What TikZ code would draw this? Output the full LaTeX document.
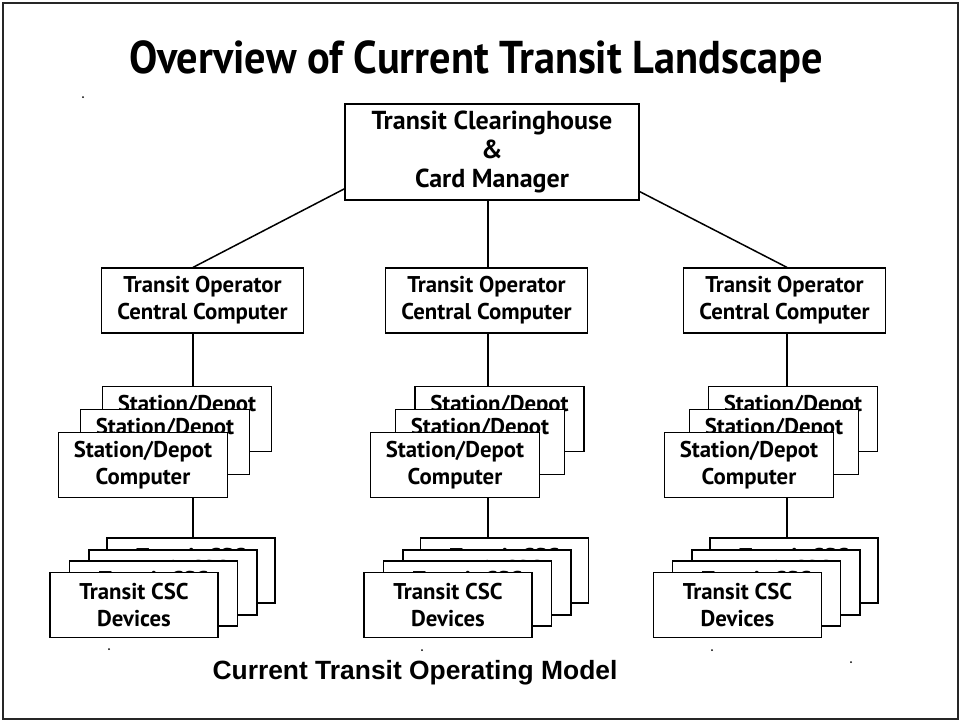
\documentclass[tikz,border=0pt]{standalone}
\usepackage{fontspec}
\setmainfont{PT Sans}
\newfontfamily\capfont{Liberation Sans}
\newfontfamily\titlefont[FakeStretch=0.92]{PT Sans}
\usepackage{tikz}
\tikzstyle{tbox}=[draw, thin, fill=white, line width=1.2pt, align=center, inner sep=0pt,
  font=\fontsize{22.8}{27}\selectfont\bfseries]
\tikzstyle{hubbox}=[tbox, minimum width=294pt, minimum height=96pt,
  font=\fontsize{26}{29}\selectfont\bfseries]
\tikzstyle{opbox}=[tbox, minimum width=202pt, minimum height=65pt]
\tikzstyle{stbox}=[tbox, minimum width=169pt, minimum height=65pt]
\tikzstyle{dvbox}=[tbox, minimum width=168pt, minimum height=65pt]
\tikzstyle{link}=[line width=1.5pt]
\tikzstyle{speck}=[circle, fill=black, inner sep=0pt, minimum size=2pt]

\begin{document}
\begin{tikzpicture}[x=1pt, y=-1pt]

\useasboundingbox (0,0) rectangle (961,721);
\draw[line width=2pt, black!85] (3,3) rectangle (958,719);

\node (title) at (476,62) {\titlefont\fontsize{46}{50}\selectfont\bfseries Overview of Current Transit Landscape};

\node[hubbox] (hub) at (492,152) {Transit Clearinghouse\\\&\\Card Manager};

\node[opbox] (opL) at (202.5,300.5) {Transit Operator\\Central Computer};
\node[opbox] (opM) at (486.5,300.5) {Transit Operator\\Central Computer};
\node[opbox] (opR) at (784.5,300.5) {Transit Operator\\Central Computer};

\coordinate (busL) at (193,0);
\coordinate (busM) at (488,0);
\coordinate (busR) at (787,0);

\node[stbox] (stL3) at (187,419) {Station/Depot\\Computer};
\node[stbox] (stL2) at (165,442) {Station/Depot\\Computer};
\node[stbox] (stL1) at (143,465) {Station/Depot\\Computer};

\node[stbox] (stM3) at (499.5,419) {Station/Depot\\Computer};
\node[stbox] (stM2) at (480,442) {Station/Depot\\Computer};
\node[stbox] (stM1) at (455,465) {Station/Depot\\Computer};

\node[stbox] (stR3) at (793,419) {Station/Depot\\Computer};
\node[stbox] (stR2) at (774,442) {Station/Depot\\Computer};
\node[stbox] (stR1) at (749,465) {Station/Depot\\Computer};

\node[dvbox] (dvL4) at (191,570.5) {Transit CSC\\Devices};
\node[dvbox] (dvL3) at (173,582.5) {Transit CSC\\Devices};
\node[dvbox] (dvL2) at (153.5,593.5) {Transit CSC\\Devices};
\node[dvbox] (dvL1) at (134,605) {Transit CSC\\Devices};

\node[dvbox] (dvM4) at (504.5,570.5) {Transit CSC\\Devices};
\node[dvbox] (dvM3) at (487,582.5) {Transit CSC\\Devices};
\node[dvbox] (dvM2) at (467.5,593.5) {Transit CSC\\Devices};
\node[dvbox] (dvM1) at (448,605) {Transit CSC\\Devices};

\node[dvbox] (dvR4) at (794,570.5) {Transit CSC\\Devices};
\node[dvbox] (dvR3) at (776,582.5) {Transit CSC\\Devices};
\node[dvbox] (dvR2) at (756.5,593.5) {Transit CSC\\Devices};
\node[dvbox] (dvR1) at (737.5,605) {Transit CSC\\Devices};

\node (model) at (415,673) {\capfont\fontsize{26.4}{30}\selectfont\bfseries Current Transit Operating Model};

\draw[link] (hub.194) -- (opL.north -| busL);
\draw[link] (hub.south -| busM) -- (opM.north -| busM);
\draw[link] (hub.-15) -- (opR.north -| busR);

\draw[link] (opL.south -| busL) -- (stL3.north -| busL);
\draw[link] (opM.south -| busM) -- (stM3.north -| busM);
\draw[link] (opR.south -| busR) -- (stR3.north -| busR);

\draw[link] (stL1.south -| busL) -- (dvL4.north -| busL);
\draw[link] (stM1.south -| busM) -- (dvM4.north -| busM);
\draw[link] (stR1.south -| busR) -- (dvR4.north -| busR);

\node[speck] (s1) at (83,97) {};
\node[speck] (s2) at (109,649) {};
\node[speck] (s3) at (422,650) {};
\node[speck] (s4) at (712,650) {};
\node[speck] (s5) at (851,662) {};

\end{tikzpicture}
\end{document}
